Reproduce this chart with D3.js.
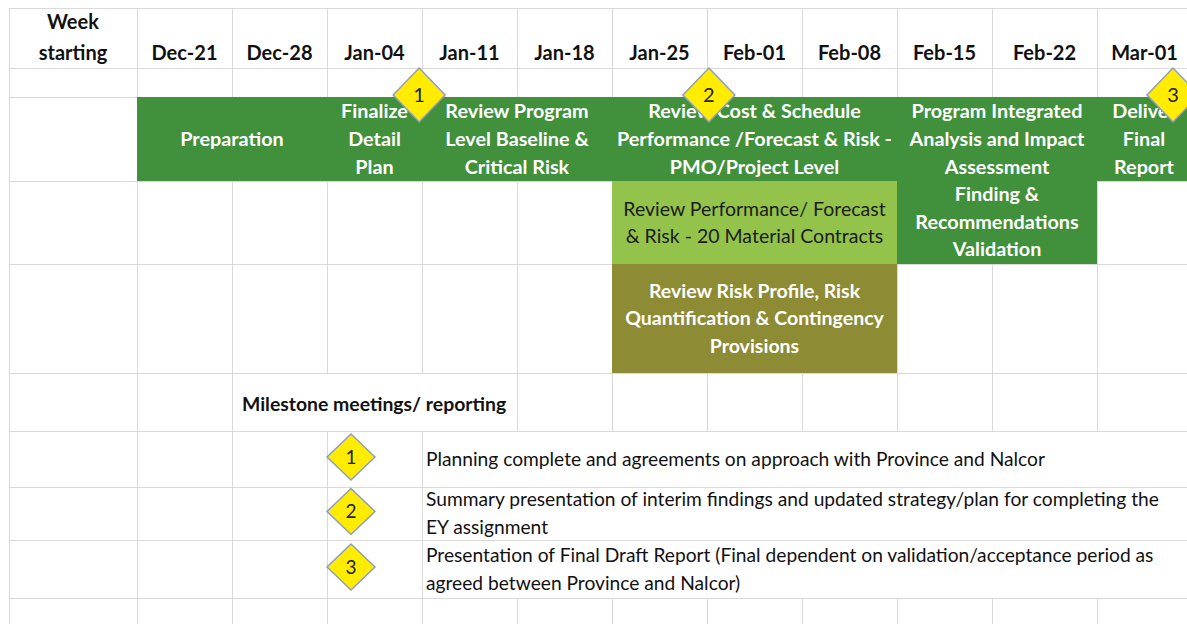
<!DOCTYPE html>
<html>
<head>
<meta charset="utf-8">
<script src="https://cdn.jsdelivr.net/npm/d3@7"></script>
<style>
  body { margin: 0; background: #fff; }
  svg { display: block; font-family: Lato, "Open Sans", sans-serif; }
</style>
</head>
<body>
<div id="chart"></div>
<script>
// week columns
const weeks = ["Dec-21", "Dec-28", "Jan-04", "Jan-11", "Jan-18", "Jan-25",
  "Feb-01", "Feb-08", "Feb-15", "Feb-22", "Mar-01"];

// tasks (week index start/end, sheet row start/end)
const taskLabels = [
  ["Preparation"],
  ["Finalize", "Detail", "Plan"],
  ["Review Program", "Level Baseline &", "Critical Risk"],
  ["Review Cost & Schedule", "Performance /Forecast & Risk -", "PMO/Project Level"],
  ["Program Integrated", "Analysis and Impact", "Assessment", "Finding &", "Recommendations", "Validation"],
  ["Deliver", "Final", "Report"],
  ["Review Performance/ Forecast", "& Risk - 20 Material Contracts"],
  ["Review Risk Profile, Risk", "Quantification & Contingency", "Provisions"]
];
const taskStart = [0, 2, 3, 5, 8, 10, 5, 5];
const taskEnd = [2, 3, 5, 8, 10, 11, 8, 8];
const taskRowStart = [2, 2, 2, 2, 2, 2, 3, 4];
const taskRowEnd = [3, 3, 3, 3, 4, 3, 4, 5];
const taskKind = ["phase", "phase", "phase", "phase", "phase", "phase", "contracts", "risk"];

// milestones
const milestoneIds = ["1", "2", "3"];
const milestoneWeek = [2.97, 6.02, 10.8];
const milestoneNotes = [
  ["Planning complete and agreements on approach with Province and Nalcor"],
  ["Summary presentation of interim findings and updated strategy/plan for completing the", "EY assignment"],
  ["Presentation of Final Draft Report (Final dependent on validation/acceptance period as", "agreed between Province and Nalcor)"]
];

const width = 1187;
const height = 624;

const fillFor = { phase: "#41903b", contracts: "#93c34b", risk: "#8d8b34" };
const textFor = { phase: "#ffffff", contracts: "#1c1c1c", risk: "#ffffff" };

// column and row edges of the sheet
const x = d3.scaleLinear()
  .domain([-1, 0, 9, 10, 11])
  .range([9, 137, 992, 1097, 1192]);

const y = d3.scaleLinear()
  .domain(d3.range(11))
  .range([8, 68, 97, 181, 264, 373, 431, 487, 540, 598, 654]);

const svg = d3.select("#chart")
  .append("svg")
  .attr("width", width)
  .attr("height", height);

svg.append("rect")
  .attr("width", width)
  .attr("height", height)
  .attr("fill", "#fff");

// grid
const grid = svg.append("g").attr("id", "grid");
const colEdges = [-1].concat(d3.range(weeks.length + 1));

grid.selectAll("line.v")
  .data(colEdges)
  .enter()
  .append("line")
  .attr("class", "v")
  .attr("x1", d => Math.round(x(d)) + 0.5)
  .attr("x2", d => Math.round(x(d)) + 0.5)
  .attr("y1", y(0))
  .attr("y2", height)
  .attr("stroke", "#d9d9d9");

// merged cells hide the vertical lines
const merged = [
  { c0: 1, c1: 4, r0: 5, r1: 6 },
  { c0: 3, c1: 12, r0: 6, r1: 9 }
];
grid.selectAll("rect.merge")
  .data(merged)
  .enter()
  .append("rect")
  .attr("class", "merge")
  .attr("x", d => Math.round(x(d.c0)) + 1)
  .attr("y", d => y(d.r0))
  .attr("width", d => x(d.c1) - x(d.c0) - 2)
  .attr("height", d => y(d.r1) - y(d.r0))
  .attr("fill", "#fff");

grid.selectAll("line.h")
  .data(d3.range(10))
  .enter()
  .append("line")
  .attr("class", "h")
  .attr("x1", x(-1))
  .attr("x2", width)
  .attr("y1", d => Math.round(y(d)) + 0.5)
  .attr("y2", d => Math.round(y(d)) + 0.5)
  .attr("stroke", "#d9d9d9");

// header
const header = svg.append("g").attr("id", "header")
  .attr("font-weight", "bold")
  .attr("font-size", 20)
  .attr("fill", "#111")
  .attr("text-anchor", "middle");

header.append("text")
  .attr("x", (x(-1) + x(0)) / 2)
  .attr("y", 29)
  .text("Week");
header.append("text")
  .attr("x", (x(-1) + x(0)) / 2)
  .attr("y", 60)
  .text("starting");

header.selectAll("text.week")
  .data(weeks)
  .enter()
  .append("text")
  .attr("class", "week")
  .attr("x", (d, i) => (x(i) + x(i + 1)) / 2)
  .attr("y", 60)
  .text(d => d);

// task bars
const tasks = taskLabels.map((lines, i) => ({
  lines,
  start: taskStart[i],
  end: taskEnd[i],
  r0: taskRowStart[i],
  r1: taskRowEnd[i],
  kind: taskKind[i]
}));

const bars = svg.append("g").attr("id", "bars");

bars.selectAll("rect")
  .data(tasks)
  .enter()
  .append("rect")
  .attr("x", d => x(d.start))
  .attr("y", d => y(d.r0))
  .attr("width", d => x(d.end) - x(d.start))
  .attr("height", d => y(d.r1) - y(d.r0))
  .attr("fill", d => fillFor[d.kind]);

const lineH = 27.6;

bars.selectAll("text")
  .data(tasks)
  .enter()
  .append("text")
  .attr("text-anchor", "middle")
  .attr("font-size", d => d.kind === "phase" ? 19.8 : 19.5)
  .attr("font-weight", d => d.kind === "contracts" ? "normal" : "bold")
  .attr("fill", d => textFor[d.kind])
  .each(function(d) {
    // last column is cut by the page edge
    const cx = d.end > 10
      ? (x(d.start) + width) / 2 + 2
      : (x(d.start) + x(d.end)) / 2;
    const cy = (y(d.r0) + y(d.r1)) / 2;
    const top = cy - (d.lines.length - 1) * lineH / 2;
    d3.select(this)
      .selectAll("tspan")
      .data(d.lines)
      .enter()
      .append("tspan")
      .attr("x", cx)
      .attr("y", (l, j) => top + j * lineH)
      .attr("dy", "0.35em")
      .text(l => l);
  });

// diamonds
const diamond = (cx, cy, hw, hh) =>
  `M${cx},${cy - hh}L${cx + hw},${cy}L${cx},${cy + hh}L${cx - hw},${cy}Z`;

const marks = svg.append("g").attr("id", "milestones");

marks.selectAll("path")
  .data(milestoneIds)
  .enter()
  .append("path")
  .attr("d", (d, i) => diamond(x(milestoneWeek[i]), y(2) - 2, 26, 27))
  .attr("fill", "#ffec00")
  .attr("stroke", "#8f9cc6")
  .attr("stroke-width", 1.5);

marks.selectAll("text")
  .data(milestoneIds)
  .enter()
  .append("text")
  .attr("x", (d, i) => x(milestoneWeek[i]))
  .attr("y", y(2) - 2)
  .attr("dy", "0.35em")
  .attr("text-anchor", "middle")
  .attr("font-size", 20)
  .attr("fill", "#222")
  .text(d => d);

// legend
const legend = svg.append("g").attr("id", "legend").attr("fill", "#111");

legend.append("text")
  .attr("x", x(1) + 10)
  .attr("y", (y(5) + y(6)) / 2 + 2)
  .attr("dy", "0.35em")
  .attr("font-size", 19.4)
  .attr("font-weight", "bold")
  .text("Milestone meetings/ reporting");

const legendRows = milestoneIds.map((id, i) => ({
  id,
  notes: milestoneNotes[i],
  cy: (y(6 + i) + y(7 + i)) / 2
}));

legend.selectAll("path")
  .data(legendRows)
  .enter()
  .append("path")
  .attr("d", d => diamond(x(2) + 24, d.cy - 2, 24, 23))
  .attr("fill", "#ffec00")
  .attr("stroke", "#8f9cc6")
  .attr("stroke-width", 1.5);

legend.selectAll("text.num")
  .data(legendRows)
  .enter()
  .append("text")
  .attr("class", "num")
  .attr("x", x(2) + 24)
  .attr("y", d => d.cy - 2)
  .attr("dy", "0.35em")
  .attr("text-anchor", "middle")
  .attr("font-size", 19)
  .attr("fill", "#222")
  .text(d => d.id);

legend.selectAll("text.note")
  .data(legendRows)
  .enter()
  .append("text")
  .attr("class", "note")
  .attr("font-size", 19.2)
  .each(function(d) {
    const top = d.cy - (d.notes.length - 1) * 28 / 2;
    d3.select(this)
      .selectAll("tspan")
      .data(d.notes)
      .enter()
      .append("tspan")
      .attr("x", x(3) + 4)
      .attr("y", (l, j) => top + j * 28)
      .attr("dy", "0.35em")
      .text(l => l);
  });
</script>
</body>
</html>
